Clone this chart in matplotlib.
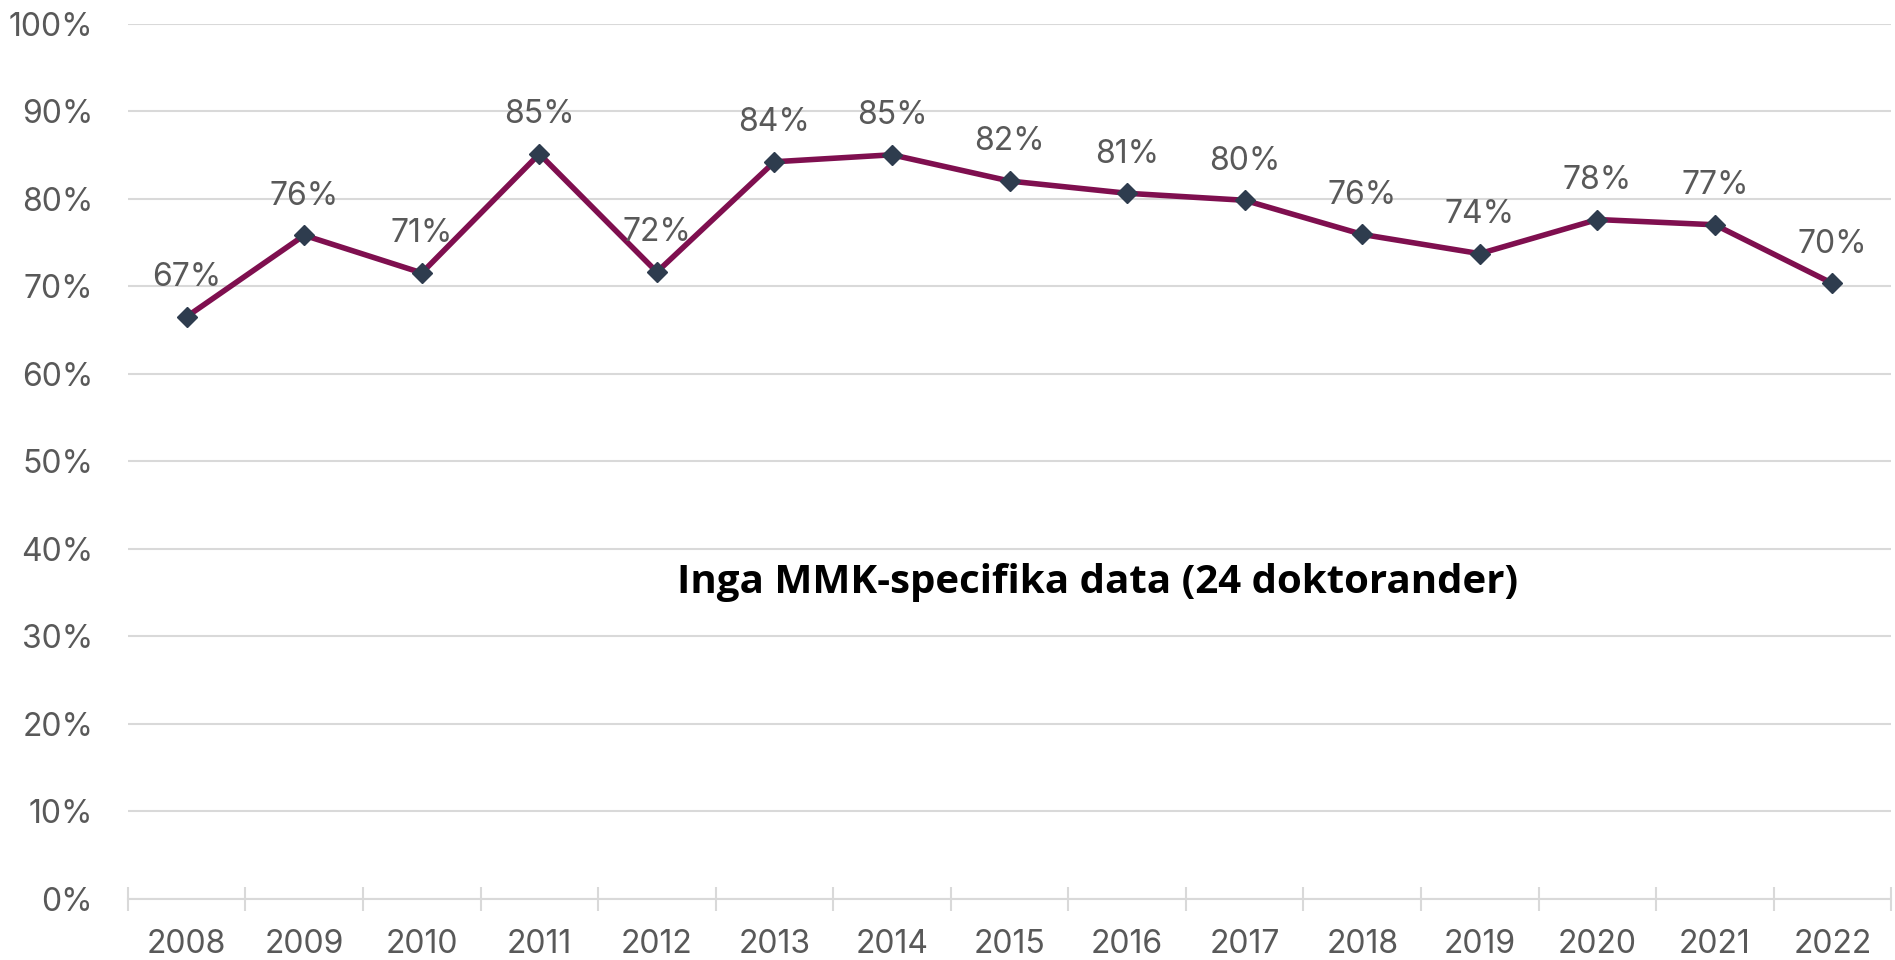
import matplotlib.pyplot as plt
from matplotlib.ticker import FixedLocator

years = ['2008', '2009', '2010', '2011', '2012', '2013', '2014', '2015',
         '2016', '2017', '2018', '2019', '2020', '2021', '2022']
share = [66.5, 75.8, 71.5, 85.1, 71.6, 84.2, 85.0, 82.0,
         80.6, 79.8, 75.9, 73.7, 77.6, 77.0, 70.3]
labels = ['67%', '76%', '71%', '85%', '72%', '84%', '85%', '82%',
          '81%', '80%', '76%', '74%', '78%', '77%', '70%']
y_ticks = [0, 10, 20, 30, 40, 50, 60, 70, 80, 90, 100]

text_grey = '#595959'
plt.rcParams['font.family'] = ['Inter', 'DejaVu Sans']

fig = plt.figure(figsize=(18.95, 9.6), dpi=100)
ax = fig.add_axes([0.0675, 0.064, 0.9305, 0.9115])

x = list(range(len(years)))
ax.plot(x, share, color='#7F0F4F', linewidth=4, marker='D', markersize=10,
        markerfacecolor='#2E3C4E', markeredgecolor='#2E3C4E', zorder=3)

for xi, v, lab in zip(x, share, labels):
    ax.annotate(lab, (xi, v), xytext=(0, 17), textcoords='offset points',
                ha='center', va='bottom', fontsize=23, color=text_grey)

ax.set_xlim(-0.5, len(years) - 0.5)
ax.set_ylim(0, 100)
ax.set_yticks(y_ticks)
ax.set_yticklabels([f'{t}%' for t in y_ticks])
ax.set_xticks(x)
ax.set_xticklabels(years)
ax.xaxis.set_minor_locator(FixedLocator([i - 0.5 for i in range(len(years) + 1)]))

ax.grid(axis='y', color='#D9D9D9', linewidth=1.5)
ax.set_axisbelow(True)
for s in ['top', 'right', 'left']:
    ax.spines[s].set_visible(False)
ax.spines['bottom'].set_color('#D9D9D9')
ax.spines['bottom'].set_linewidth(1.5)

ax.tick_params(axis='y', length=0, pad=25, labelsize=23, labelcolor=text_grey)
ax.tick_params(axis='x', which='major', length=0, pad=22, labelsize=23,
               labelcolor=text_grey)
ax.tick_params(axis='x', which='minor', direction='inout', length=17,
               width=1.5, color='#D9D9D9')

ax.text(0.55, 0.361, 'Inga MMK-specifika data (24 doktorander)',
        transform=ax.transAxes, ha='center', va='center', fontsize=29,
        fontweight='bold', family=['Open Sans', 'DejaVu Sans'], color='black')

fig.savefig('out.png', dpi=100)
